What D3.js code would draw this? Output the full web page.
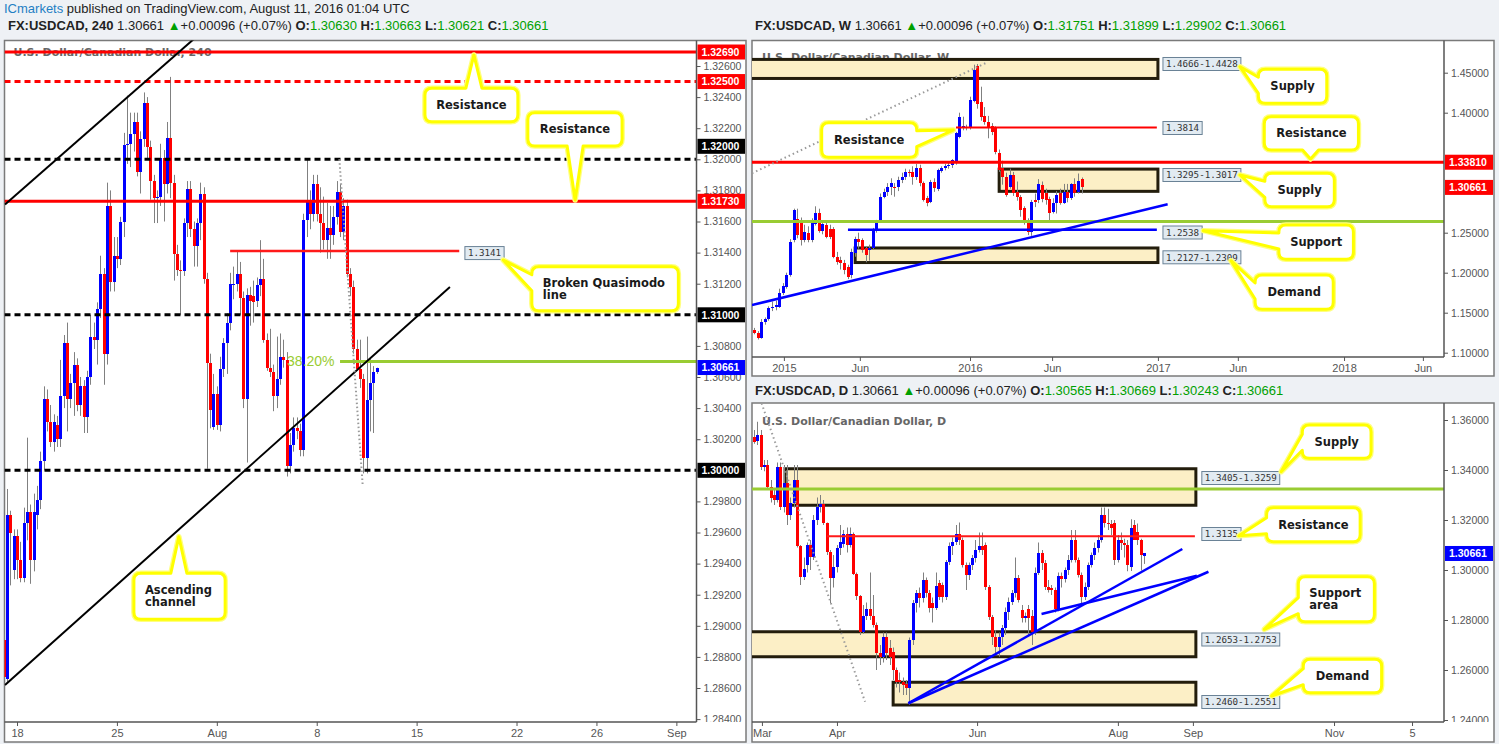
<!DOCTYPE html>
<html>
<head>
<meta charset="utf-8">
<title>USDCAD</title>
<script src="https://cdn.jsdelivr.net/npm/d3@7"></script>
<style>
html,body{margin:0;padding:0;background:#eef1f5;}
svg{display:block;}
text{white-space:pre;}
</style>
</head>
<body>
<svg id="chart" width="1499" height="744"></svg>
<script>
// ================= DATA =================
// 4H candles [open, high, low, close]
const h4Candles = [
[1.2891,1.2895,1.2865,1.2867],[1.2866,1.2988,1.2864,1.2971],[1.2971,1.2974,1.2926,1.2960],[1.2936,1.2962,1.2930,1.2958],
[1.2958,1.2962,1.2930,1.2942],[1.2942,1.2954,1.2928,1.2931],[1.2931,1.2976,1.2928,1.2966],[1.2966,1.3021,1.2955,1.2973],
[1.2973,1.2978,1.2927,1.2942],[1.2942,1.2985,1.2935,1.2973],[1.2971,1.2990,1.2962,1.2981],[1.2981,1.3012,1.2975,1.3006],
[1.3006,1.3054,1.3000,1.3046],[1.3046,1.3052,1.3025,1.3031],[1.3031,1.3042,1.3015,1.3018],[1.3018,1.3036,1.3012,1.3031],
[1.3029,1.3035,1.3015,1.3020],[1.3020,1.3071,1.3015,1.3048],[1.3048,1.3087,1.3040,1.3082],[1.3082,1.3095,1.3025,1.3046],
[1.3046,1.3062,1.3040,1.3056],[1.3056,1.3076,1.3035,1.3068],[1.3068,1.3072,1.3038,1.3042],[1.3042,1.3060,1.3035,1.3054],
[1.3054,1.3058,1.3024,1.3034],[1.3034,1.3064,1.3024,1.3060],[1.3060,1.3100,1.3055,1.3086],[1.3086,1.3095,1.3078,1.3084],
[1.3084,1.3108,1.3068,1.3104],[1.3104,1.3138,1.3098,1.3126],[1.3126,1.3130,1.3055,1.3075],[1.3075,1.3185,1.3068,1.3170],
[1.3170,1.3180,1.3115,1.3121],[1.3121,1.3150,1.3115,1.3138],[1.3138,1.3150,1.3130,1.3136],[1.3136,1.3163,1.3132,1.3160],
[1.3160,1.3217,1.3150,1.3209],[1.3209,1.3241,1.3197,1.3210],[1.3210,1.3230,1.3195,1.3216],[1.3216,1.3230,1.3205,1.3224],
[1.3224,1.3230,1.3189,1.3192],[1.3192,1.3218,1.3178,1.3213],[1.3213,1.3243,1.3208,1.3236],[1.3236,1.3240,1.3200,1.3208],
[1.3208,1.3212,1.3174,1.3186],[1.3186,1.3190,1.3159,1.3175],[1.3175,1.3180,1.3159,1.3176],[1.3176,1.3210,1.3170,1.3201],
[1.3201,1.3206,1.3160,1.3184],[1.3184,1.3224,1.3178,1.3214],[1.3214,1.3253,1.3175,1.3185],[1.3185,1.3190,1.3122,1.3139],
[1.3139,1.3145,1.3125,1.3129],[1.3129,1.3135,1.3100,1.3128],[1.3128,1.3162,1.3125,1.3159],[1.3159,1.3186,1.3150,1.3181],
[1.3181,1.3186,1.3150,1.3155],[1.3155,1.3160,1.3131,1.3144],[1.3144,1.3162,1.3131,1.3159],[1.3159,1.3185,1.3148,1.3178],
[1.3178,1.3182,1.3120,1.3123],[1.3123,1.3127,1.3001,1.3069],[1.3069,1.3075,1.3027,1.3039],[1.3028,1.3062,1.3026,1.3049],
[1.3049,1.3054,1.3026,1.3029],[1.3029,1.3073,1.3025,1.3065],[1.3065,1.3085,1.3060,1.3082],[1.3082,1.3101,1.3062,1.3095],
[1.3095,1.3127,1.3090,1.3120],[1.3119,1.3131,1.3110,1.3120],[1.3120,1.3141,1.3115,1.3126],[1.3126,1.3134,1.3100,1.3111],
[1.3111,1.3115,1.3040,1.3046],[1.3046,1.3117,1.3005,1.3113],[1.3113,1.3118,1.3093,1.3109],[1.3112,1.3122,1.3095,1.3108],
[1.3109,1.3124,1.3105,1.3119],[1.3119,1.3148,1.3112,1.3123],[1.3123,1.3136,1.3082,1.3084],[1.3084,1.3088,1.3064,1.3066],
[1.3066,1.3091,1.3060,1.3063],[1.3063,1.3068,1.3038,1.3048],[1.3048,1.3086,1.3040,1.3059],[1.3059,1.3088,1.3055,1.3073],
[1.3073,1.3084,1.3066,1.3071],[1.3071,1.3076,1.2996,1.3003],[1.3003,1.3024,1.2998,1.3016],[1.3016,1.3034,1.3012,1.3027],
[1.3027,1.3034,1.3020,1.3025],[1.3025,1.3030,1.3009,1.3013],[1.3013,1.3165,1.3009,1.3161],[1.3161,1.3200,1.3150,1.3173],
[1.3173,1.3180,1.3155,1.3165],[1.3165,1.3190,1.3160,1.3184],[1.3184,1.3190,1.3160,1.3165],[1.3165,1.3182,1.3140,1.3159],
[1.3159,1.3176,1.3142,1.3148],[1.3148,1.3172,1.3136,1.3156],[1.3156,1.3170,1.3136,1.3151],[1.3151,1.3170,1.3145,1.3163],
[1.3163,1.3186,1.3158,1.3179],[1.3179,1.3184,1.3150,1.3153],[1.3153,1.3175,1.3148,1.3170],[1.3170,1.3174,1.3124,1.3126],
[1.3126,1.3130,1.3112,1.3118],[1.3118,1.3122,1.3075,1.3078],[1.3078,1.3084,1.3064,1.3065],[1.3065,1.3084,1.3053,1.3059],
[1.3059,1.3062,1.2998,1.3008],[1.3008,1.3086,1.2998,1.3045],[1.3045,1.3072,1.3025,1.3056],[1.3056,1.3067,1.3024,1.3063],
[1.3063,1.3066,1.3062,1.3066]
];
const h4TimeTickIdx = [4, 34, 64, 94, 124, 154, 178, 202];
const h4TimeTickLabels = ['18', '25', 'Aug', '8', '15', '22', '26', 'Sep'];
const h4PriceTicks = [1.326,1.324,1.322,1.320,1.318,1.316,1.314,1.312,1.308,1.306,1.304,1.302,1.298,1.296,1.294,1.292,1.290,1.288,1.286,1.284];
const h4PriceTags = [
  {p:1.3269, t:'1.32690', c:'#ff0000', dy:0},
  {p:1.3250, t:'1.32500', c:'#ff0000', dy:0},
  {p:1.3200, t:'1.32000', c:'#000000', dy:-13},
  {p:1.3173, t:'1.31730', c:'#ff0000', dy:0},
  {p:1.3100, t:'1.31000', c:'#000000', dy:0},
  {p:1.30661, t:'1.30661', c:'#0000ff', dy:0},
  {p:1.3000, t:'1.30000', c:'#000000', dy:0}
];
const h4Levels = [
  {p:1.3269, c:'#ff0000', w:3, dash:null},
  {p:1.3250, c:'#ff0000', w:3, dash:'6,4'},
  {p:1.3200, c:'#000000', w:3, dash:'6,4'},
  {p:1.3173, c:'#ff0000', w:3, dash:null},
  {p:1.3100, c:'#000000', w:3, dash:'6,4'},
  {p:1.3000, c:'#000000', w:3, dash:'6,4'}
];
const h4Segments = [
  {a:[68, 1.3141], b:[136.8, 1.3141], c:'#ff1a1a', w:2.5, dash:null},
  {a:[101, 1.3070], b:[210, 1.3070], c:'#99cc33', w:3, dash:null},
  {a:[0.39, 1.3171], b:[60, 1.32828], c:'#000000', w:2, dash:null},
  {a:[0.39, 1.28619], b:[134, 1.31179], c:'#000000', w:2, dash:null},
  {a:[100.8, 1.3200], b:[107.8, 1.29906], c:'#9a9a9a', w:2, dash:'1.5,2.5'}
];
const h4Texts = [{i:85.1, p:1.3070, t:'38.20%', c:'#99cc33', size:14}];
const h4ValueLabels = [{i:138.5, p:1.31397, t:'1.3141'}];
const h4Callouts = [
  {x0:126.5, x1:154.4, p0:1.32457, p1:1.32242, tx:141.2, tp:1.32671, lines:['Resistance']},
  {x0:157.4, x1:185.7, p0:1.3230, p1:1.32086, tx:171.6, tp:1.31738, lines:['Resistance']},
  {x0:158.6, x1:202.6, p0:1.31309, p1:1.31026, tx:150, tp:1.31352, lines:['Broken Quasimodo','line']},
  {x0:39.1, x1:66.5, p0:1.29338, p1:1.29042, tx:52.6, tp:1.29573, lines:['Ascending','channel']}
];

// Weekly candles [open, high, low, close]
const wCandles = [
[1.1284,1.1310,1.1230,1.1250],[1.1250,1.1270,1.1165,1.1188],[1.1188,1.1420,1.1175,1.1388],[1.1388,1.1440,1.1350,1.1417],
[1.1417,1.1580,1.1400,1.1555],[1.1555,1.1640,1.1520,1.1575],[1.1575,1.1650,1.1530,1.1596],[1.1575,1.1800,1.1560,1.1750],
[1.1742,1.1870,1.1720,1.1834],[1.1825,1.2000,1.1800,1.1971],[1.1971,1.2420,1.1950,1.2388],[1.2409,1.2800,1.2380,1.2784],
[1.2667,1.2800,1.2430,1.2471],[1.2638,1.2690,1.2340,1.2409],[1.2409,1.2600,1.2380,1.2513],[1.2500,1.2580,1.2380,1.2409],
[1.2409,1.2680,1.2380,1.2638],[1.2609,1.2830,1.2590,1.2750],[1.2750,1.2800,1.2500,1.2525],[1.2525,1.2620,1.2480,1.2609],
[1.2596,1.2650,1.2430,1.2450],[1.2542,1.2600,1.2420,1.2450],[1.2542,1.2570,1.2180,1.2200],[1.2200,1.2260,1.2100,1.2138],
[1.2159,1.2200,1.2040,1.2117],[1.2125,1.2160,1.1980,1.2034],[1.2075,1.2100,1.1920,1.1950],[1.1971,1.2300,1.1930,1.2263],
[1.2242,1.2450,1.2200,1.2417],[1.2417,1.2500,1.2300,1.2388],[1.2409,1.2430,1.2250,1.2284],[1.2305,1.2330,1.2130,1.2221],
[1.2284,1.2350,1.2150,1.2305],[1.2305,1.2560,1.2290,1.2542],[1.2534,1.2660,1.2500,1.2638],[1.2659,1.2990,1.2640,1.2951],
[1.2951,1.3050,1.2930,1.3013],[1.3013,1.3120,1.2960,1.3075],[1.3067,1.3180,1.2970,1.3125],[1.3075,1.3120,1.2950,1.3055],
[1.3067,1.3200,1.3020,1.3159],[1.3159,1.3250,1.3120,1.3200],[1.3200,1.3300,1.3160,1.3263],[1.3263,1.3290,1.3200,1.3242],
[1.3255,1.3330,1.3100,1.3200],[1.3200,1.3360,1.3160,1.3313],[1.3313,1.3350,1.3080,1.3125],[1.3125,1.3140,1.2890,1.2909],
[1.2930,1.2960,1.2830,1.2875],[1.2888,1.3160,1.2870,1.3138],[1.3138,1.3180,1.3010,1.3055],[1.3042,1.3300,1.3020,1.3284],
[1.3275,1.3330,1.3250,1.3305],[1.3305,1.3360,1.3280,1.3334],[1.3334,1.3390,1.3300,1.3346],[1.3346,1.3420,1.3310,1.3409],
[1.3367,1.3760,1.3350,1.3742],[1.3700,1.4000,1.3680,1.3942],[1.3817,1.3950,1.3780,1.3834],[1.3805,1.3850,1.3780,1.3817],
[1.3805,1.4200,1.3790,1.4159],[1.4150,1.4600,1.4130,1.4534],[1.4584,1.4609,1.4050,1.4109],[1.4138,1.4325,1.3900,1.3942],
[1.3959,1.4070,1.3850,1.3888],[1.3888,1.3960,1.3680,1.3817],[1.3834,1.3870,1.3720,1.3763],[1.3817,1.3830,1.3480,1.3513],
[1.3492,1.3540,1.3260,1.3284],[1.3305,1.3400,1.3100,1.3200],[1.3200,1.3250,1.2950,1.2971],[1.3075,1.3300,1.3050,1.3221],
[1.3221,1.3260,1.2960,1.2992],[1.3013,1.3140,1.2900,1.2951],[1.2951,1.2970,1.2700,1.2784],[1.2805,1.2830,1.2600,1.2638],
[1.2659,1.2680,1.2470,1.2513],[1.2513,1.2910,1.2461,1.2888],[1.2909,1.2990,1.2820,1.2888],[1.2909,1.3170,1.2870,1.3109],
[1.3096,1.3140,1.2880,1.2917],[1.2992,1.3050,1.2850,1.2909],[1.2917,1.2950,1.2650,1.2742],[1.2763,1.2930,1.2740,1.2867],
[1.2867,1.3020,1.2740,1.2971],[1.3001,1.3050,1.2850,1.2875],[1.2875,1.3110,1.2860,1.3013],[1.3013,1.3110,1.2880,1.2930],
[1.2930,1.3120,1.2910,1.3109],[1.3109,1.3180,1.2950,1.3001],[1.3013,1.3240,1.2990,1.3150],[1.31751,1.31899,1.29902,1.30661]
];
const wTimeTickIdx = [8.3, 29.4, 60, 82.8, 112.2, 134.4, 163.9, 185.8];
const wTimeTickLabels = ['2015', 'Jun', '2016', 'Jun', '2017', 'Jun', '2018', 'Jun'];
const wPriceTicks = [1.45, 1.40, 1.25, 1.20, 1.15, 1.10];
const wPriceTags = [
  {p:1.3381, t:'1.33810', c:'#ff0000', dy:0},
  {p:1.30661, t:'1.30661', c:'#ff0000', dy:0}
];
const wZones = [
  {x0:-3, x1:112.2, p0:1.4666, p1:1.4428},
  {x0:68.1, x1:112.2, p0:1.3295, p1:1.3017},
  {x0:28.1, x1:112.2, p0:1.2309, p1:1.2127}
];
const wLevels = [
  {p:1.3381, c:'#ff0000', w:3, dash:null},
  {p:1.2640, c:'#99cc33', w:3, dash:null}
];
const wSegments = [
  {a:[56.1, 1.3814], b:[111.9, 1.3814], c:'#ff0000', w:2, dash:null},
  {a:[26.1, 1.2538], b:[111.9, 1.2538], c:'#0000ff', w:2.5, dash:null},
  {a:[-0.56, 1.1596], b:[114.9, 1.2855], c:'#0000ff', w:2.5, dash:null},
  {a:[-0.56, 1.3243], b:[64.6, 1.4625], c:'#9a9a9a', w:2, dash:'1.5,3'}
];
const wValueLabels = [
  {i:113.6, p:1.46088, t:'1.4666-1.4428'},
  {i:113.6, p:1.38088, t:'1.3814'},
  {i:113.6, p:1.32213, t:'1.3295-1.3017'},
  {i:113.6, p:1.25025, t:'1.2538'},
  {i:113.6, p:1.21925, t:'1.2127-1.2309'}
];
const wCallouts = [
  {x0:140.1, x1:159.1, p0:1.45425, p1:1.41175, tx:135, tp:1.4575, lines:['Supply']},
  {x0:141.75, x1:167.9, p0:1.395, p1:1.35338, tx:154.6, tp:1.34213, lines:['Resistance']},
  {x0:141.9, x1:161.2, p0:1.32425, p1:1.2825, tx:135, tp:1.32213, lines:['Supply']},
  {x0:145.8, x1:166.5, p0:1.25963, p1:1.21675, tx:124.8, tp:1.2525, lines:['Support']},
  {x0:139.2, x1:160.9, p0:1.19713, p1:1.15425, tx:132.5, tp:1.2150, lines:['Demand']},
  {x0:18.8, x1:45.2, p0:1.3875, p1:1.34425, tx:55.4, tp:1.37838, lines:['Resistance']}
];

// Daily candles [open, high, low, close]
const dCandles = [
[1.3533,1.3560,1.3505,1.3513],[1.3517,1.3593,1.3500,1.3540],[1.3540,1.3560,1.3400,1.3411],[1.3411,1.3440,1.3395,1.3420],
[1.3420,1.3440,1.3320,1.3333],[1.3333,1.3360,1.3270,1.3290],[1.3300,1.3320,1.3260,1.3280],[1.3280,1.3430,1.3270,1.3411],
[1.3411,1.3430,1.3240,1.3253],[1.3253,1.3420,1.3230,1.3347],[1.3347,1.3420,1.3180,1.3220],[1.3220,1.3290,1.3200,1.3267],
[1.3267,1.3420,1.3250,1.3360],[1.3360,1.3420,1.3090,1.3096],[1.3096,1.3100,1.2940,1.2973],[1.2973,1.3050,1.2960,1.3003],
[1.3020,1.3110,1.2990,1.3100],[1.3100,1.3120,1.3000,1.3051],[1.3051,1.3220,1.3040,1.3200],[1.3200,1.3290,1.3180,1.3253],
[1.3253,1.3300,1.3230,1.3263],[1.3263,1.3280,1.3180,1.3187],[1.3187,1.3190,1.3060,1.3073],[1.3073,1.3080,1.2867,1.2967],
[1.2967,1.3060,1.2930,1.3013],[1.3013,1.3100,1.2990,1.3087],[1.3087,1.3180,1.3060,1.3113],[1.3105,1.3160,1.3090,1.3143],
[1.3143,1.3170,1.3070,1.3100],[1.3100,1.3170,1.3090,1.3143],[1.3143,1.3150,1.2980,1.2984],[1.2984,1.2990,1.2880,1.2896],
[1.2896,1.2900,1.2740,1.2753],[1.2753,1.2860,1.2745,1.2816],[1.2816,1.2870,1.2800,1.2843],[1.2843,1.2990,1.2800,1.2816],
[1.2816,1.2900,1.2770,1.2780],[1.2780,1.2790,1.2600,1.2667],[1.2667,1.2700,1.2620,1.2651],[1.2651,1.2750,1.2630,1.2733],
[1.2733,1.2750,1.2640,1.2667],[1.2690,1.2720,1.2620,1.2651],[1.2673,1.2690,1.2560,1.2600],[1.2600,1.2610,1.2530,1.2553],
[1.2560,1.2590,1.2510,1.2553],[1.2553,1.2570,1.2500,1.2540],[1.2545,1.2560,1.2500,1.2527],[1.2527,1.2730,1.2461,1.2720],
[1.2720,1.2880,1.2700,1.2867],[1.2867,1.2920,1.2830,1.2907],[1.2907,1.2930,1.2850,1.2890],[1.2890,1.2990,1.2870,1.2960],
[1.2960,1.2970,1.2890,1.2907],[1.2907,1.2920,1.2830,1.2847],[1.2870,1.2890,1.2790,1.2847],[1.2847,1.2990,1.2840,1.2936],
[1.2947,1.2960,1.2880,1.2893],[1.2940,1.2950,1.2870,1.2893],[1.2893,1.3040,1.2880,1.3033],[1.3033,1.3110,1.3020,1.3096],
[1.3096,1.3130,1.3060,1.3113],[1.3113,1.3180,1.3100,1.3143],[1.3143,1.3190,1.3100,1.3120],[1.3120,1.3130,1.3010,1.3020],
[1.3020,1.3030,1.2920,1.2980],[1.2980,1.3030,1.2960,1.3020],[1.3020,1.3060,1.3000,1.3047],[1.3047,1.3120,1.3030,1.3080],
[1.3080,1.3150,1.3070,1.3096],[1.3096,1.3150,1.3060,1.3080],[1.3100,1.3110,1.2920,1.2933],[1.2933,1.2940,1.2800,1.2813],
[1.2813,1.2820,1.2700,1.2733],[1.2733,1.2760,1.2660,1.2693],[1.2693,1.2750,1.2653,1.2733],[1.2733,1.2780,1.2700,1.2767],
[1.2767,1.2850,1.2740,1.2833],[1.2833,1.2890,1.2800,1.2873],[1.2873,1.2920,1.2860,1.2909],[1.2909,1.3050,1.2890,1.2967],
[1.2967,1.2980,1.2870,1.2880],[1.2840,1.2860,1.2790,1.2810],[1.2810,1.2830,1.2790,1.2816],[1.2843,1.2860,1.2740,1.2807],
[1.2816,1.2840,1.2700,1.2753],[1.2753,1.3010,1.2740,1.2987],[1.2987,1.3110,1.2980,1.3069],[1.3069,1.3080,1.3000,1.3027],
[1.3027,1.3040,1.2920,1.2933],[1.2933,1.2960,1.2910,1.2920],[1.2927,1.2940,1.2900,1.2920],[1.2920,1.2930,1.2830,1.2843],
[1.2843,1.2990,1.2835,1.2977],[1.2977,1.2990,1.2930,1.2963],[1.2963,1.3010,1.2950,1.3000],[1.3000,1.3060,1.2980,1.3040],
[1.3040,1.3160,1.3030,1.3120],[1.3120,1.3160,1.3030,1.3040],[1.3040,1.3050,1.2970,1.2980],[1.2980,1.2990,1.2867,1.2893],
[1.2893,1.2950,1.2880,1.2933],[1.2933,1.3030,1.2920,1.3020],[1.3020,1.3070,1.3010,1.3060],[1.3060,1.3110,1.3040,1.3087],
[1.3087,1.3140,1.3070,1.3120],[1.3120,1.3250,1.3110,1.3220],[1.3220,1.3250,1.3170,1.3187],[1.3187,1.3245,1.3160,1.3185],
[1.3185,1.3200,1.3140,1.3170],[1.3187,1.3200,1.3020,1.3040],[1.3040,1.3140,1.3030,1.3120],[1.3120,1.3150,1.3080,1.3107],
[1.3107,1.3125,1.3050,1.3100],[1.3100,1.3120,1.2995,1.3020],[1.3013,1.3203,1.2996,1.3167],[1.3180,1.3200,1.3136,1.3120],
[1.3153,1.3186,1.3100,1.3120],[1.3120,1.3125,1.2998,1.3060],[1.30565,1.30669,1.30243,1.30661]
];
const dTimeTickIdx = [2.4, 25.1, 67.5, 110.1, 132.8, 175.5, 199.1];
const dTimeTickLabels = ['Mar', 'Apr', 'Jun', 'Aug', 'Sep', 'Nov', '5'];
const dPriceTicks = [1.36, 1.34, 1.32, 1.30, 1.28, 1.26, 1.24];
const dPriceTags = [{p:1.30661, t:'1.30661', c:'#0000ff', dy:0}];
const dZones = [
  {x0:9.4, x1:133.7, p0:1.3405, p1:1.3259},
  {x0:-3, x1:133.7, p0:1.2753, p1:1.2653},
  {x0:42.1, x1:133.7, p0:1.2551, p1:1.2460}
];
const dLevels = [{p:1.3324, c:'#99cc33', w:3, dash:null}];
const dSegments = [
  {a:[22.1, 1.3135], b:[133.4, 1.3135], c:'#ff1a1a', w:2, dash:null},
  {a:[46.7, 1.2467], b:[129.6, 1.3084], c:'#0000ff', w:2.5, dash:null},
  {a:[46.7, 1.2467], b:[137.5, 1.2993], c:'#0000ff', w:2.5, dash:null},
  {a:[87.0, 1.2824], b:[134.0, 1.2977], c:'#0000ff', w:2.5, dash:null},
  {a:[2.3, 1.3667], b:[33.6, 1.2473], c:'#9a9a9a', w:2, dash:'1.5,3'}
];
const dValueLabels = [
  {i:135.5, p:1.3368, t:'1.3405-1.3259'},
  {i:135.5, p:1.3144, t:'1.3135'},
  {i:135.5, p:1.2722, t:'1.2653-1.2753'},
  {i:135.5, p:1.2472, t:'1.2460-1.2551'}
];
const dCallouts = [
  {x0:165.9, x1:186.7, p0:1.358, p1:1.34468, tx:159.5, tp:1.33932, lines:['Supply']},
  {x0:155.1, x1:183.4, p0:1.32492, p1:1.31132, tx:146.7, tp:1.31372, lines:['Resistance']},
  {x0:164.7, x1:187.7, p0:1.29732, p1:1.27932, tx:154.4, tp:1.27628, lines:['Support','area']},
  {x0:166.2, x1:189.9, p0:1.26428, p1:1.25092, tx:156.6, tp:1.2496, lines:['Demand']}
];

// ================= DRAWING =================
const FONT_UI = "'Liberation Sans', Arial, sans-serif";
const FONT_B = "'DejaVu Sans', Verdana, sans-serif";
const FONT_M = "'DejaVu Sans Mono', 'Liberation Mono', monospace";

const svg = d3.select('#chart');
svg.append('rect').attr('width', 1499).attr('height', 744).attr('fill', '#eef1f5');
const defs = svg.append('defs');

function header(x, y, parts) {
  const t = svg.append('text').attr('x', x).attr('y', y).attr('font-family', FONT_UI).attr('font-size', 13).attr('fill', '#222');
  parts.forEach(([s, st]) => {
    const ts = t.append('tspan').text(s);
    if (st === 'b') ts.attr('font-weight', 'bold');
    if (st === 'g') ts.attr('fill', '#00a000');
    if (st === 'l') ts.attr('fill', '#1f7fc4');
  });
}
function quote(tf, last, o, h, l, c) {
  return [['FX:USDCAD, ' + tf, 'b'], [' ' + last + ' ', 'n'], ['\u25B2', 'g'], ['+0.00096 (+0.07%) ', 'n'],
    ['O:', 'b'], [o, 'g'], [' H:', 'b'], [h, 'g'], [' L:', 'b'], [l, 'g'], [' C:', 'b'], [c, 'g']];
}

function callout(layer, x, y, c) {
  const X0 = x(c.x0), X1 = x(c.x1), Y0 = y(c.p0), Y1 = y(c.p1), TX = x(c.tx), TY = y(c.tp);
  const r = 7, hw = 8;
  const dl = X0 - TX, dr = TX - X1, dt = Y0 - TY, db = TY - Y1;
  const m = Math.max(dl, dr, dt, db);
  const side = m === dl ? 'l' : m === dr ? 'r' : m === dt ? 't' : 'b';
  const cl = (v, a, b) => Math.max(a, Math.min(b, v));
  const bx = cl(TX, X0 + r + hw + 2, X1 - r - hw - 2), by = cl(TY, Y0 + r + hw + 1, Y1 - r - hw - 1);
  let p = `M${X0 + r},${Y0}`;
  if (side === 't') p += `L${bx - hw},${Y0}L${TX},${TY}L${bx + hw},${Y0}`;
  p += `L${X1 - r},${Y0}Q${X1},${Y0} ${X1},${Y0 + r}`;
  if (side === 'r') p += `L${X1},${by - hw}L${TX},${TY}L${X1},${by + hw}`;
  p += `L${X1},${Y1 - r}Q${X1},${Y1} ${X1 - r},${Y1}`;
  if (side === 'b') p += `L${bx + hw},${Y1}L${TX},${TY}L${bx - hw},${Y1}`;
  p += `L${X0 + r},${Y1}Q${X0},${Y1} ${X0},${Y1 - r}`;
  if (side === 'l') p += `L${X0},${by + hw}L${TX},${TY}L${X0},${by - hw}`;
  p += `L${X0},${Y0 + r}Q${X0},${Y0} ${X0 + r},${Y0}Z`;
  layer.append('path').attr('d', p).attr('fill', 'none').attr('stroke', '#ffff80').attr('stroke-width', 5.5).attr('stroke-linejoin', 'round');
  layer.append('path').attr('d', p).attr('fill', '#fff').attr('stroke', '#ffff00').attr('stroke-width', 3).attr('stroke-linejoin', 'round');
  const n = c.lines.length, lh = 12, cy = (Y0 + Y1) / 2;
  const t = layer.append('text').attr('font-family', FONT_B).attr('font-weight', 'bold').attr('font-size', 11.5).attr('fill', '#1a1a1a');
  if (n === 1) t.attr('text-anchor', 'middle');
  c.lines.forEach((s, k) => {
    t.append('tspan').attr('x', n > 1 ? X0 + 11 : (X0 + X1) / 2).attr('y', cy + (k - (n - 1) / 2) * lh).attr('dy', '0.36em').text(s);
  });
}

function valueLabel(layer, x, y, v) {
  const g = layer.append('g');
  const X = x(v.i), Y = y(v.p);
  const t = g.append('text').attr('x', X + 3).attr('y', Y).attr('dy', '0.35em').attr('font-family', FONT_M).attr('font-size', 9.2).attr('fill', '#333').text(v.t);
  const w = t.node().getComputedTextLength();
  g.insert('rect', 'text').attr('x', X).attr('y', Y - 6.5).attr('width', w + 6).attr('height', 13).attr('fill', '#e2ebf2').attr('stroke', '#6a8296').attr('stroke-width', 1);
}

function drawPanel(cfg) {
  const [bx0, by0, bx1, by1] = cfg.box, [px0, py0, px1, py1] = cfg.plot;
  const g = svg.append('g');
  g.append('rect').attr('x', bx0).attr('y', by0).attr('width', bx1 - bx0).attr('height', by1 - by0).attr('fill', '#fff').attr('stroke', '#7a7a7a').attr('stroke-width', 1.5);
  const x = d3.scaleLinear().domain([0, 1]).range([cfg.x0, cfg.x0 + cfg.step]);
  const y = d3.scaleLinear().domain(cfg.yDomain).range([py1, py0]);
  const cid = 'clip-' + cfg.id;
  defs.append('clipPath').attr('id', cid).append('rect').attr('x', px0).attr('y', py0).attr('width', px1 - px0).attr('height', py1 - py0);
  const plot = g.append('g').attr('clip-path', `url(#${cid})`);

  // title
  plot.append('text').attr('x', px0 + cfg.titleDx).attr('y', py0 + cfg.titleDy).attr('font-family', FONT_B).attr('font-weight', 'bold')
    .attr('font-size', 11).attr('fill', '#666').text(cfg.title);

  // zones
  plot.selectAll('rect.zone').data(cfg.zones || []).join('rect').attr('class', 'zone')
    .attr('x', d => x(d.x0)).attr('y', d => y(d.p0)).attr('width', d => x(d.x1) - x(d.x0)).attr('height', d => y(d.p1) - y(d.p0))
    .attr('fill', '#fcefc6').attr('stroke', '#231d0c').attr('stroke-width', 3);

  // candles
  const bw = cfg.bodyW;
  const cg = plot.append('g');
  cg.selectAll('line').data(cfg.candles).join('line')
    .attr('x1', (d, i) => Math.round(x(i)) + 0.5).attr('x2', (d, i) => Math.round(x(i)) + 0.5)
    .attr('y1', d => y(d[1])).attr('y2', d => y(d[2])).attr('stroke', '#808080').attr('stroke-width', 1);
  cg.selectAll('rect').data(cfg.candles).join('rect')
    .attr('x', (d, i) => Math.round(x(i)) + 0.5 - bw / 2).attr('width', bw)
    .attr('y', d => y(Math.max(d[0], d[3]))).attr('height', d => Math.max(1, Math.abs(y(d[0]) - y(d[3]))))
    .attr('fill', d => d[3] >= d[0] ? '#0000ff' : '#ff0000').attr('shape-rendering', 'crispEdges');

  // horizontal levels
  plot.selectAll('line.level').data(cfg.levels || []).join('line').attr('class', 'level')
    .attr('x1', px0).attr('x2', px1).attr('y1', d => y(d.p)).attr('y2', d => y(d.p))
    .attr('stroke', d => d.c).attr('stroke-width', d => d.w).attr('stroke-dasharray', d => d.dash);
  // segments
  plot.selectAll('line.seg').data(cfg.segments || []).join('line').attr('class', 'seg')
    .attr('x1', d => x(d.a[0])).attr('y1', d => y(d.a[1])).attr('x2', d => x(d.b[0])).attr('y2', d => y(d.b[1]))
    .attr('stroke', d => d.c).attr('stroke-width', d => d.w).attr('stroke-dasharray', d => d.dash).attr('stroke-linecap', 'butt');
  // texts
  (cfg.texts || []).forEach(d => {
    plot.append('text').attr('x', x(d.i)).attr('y', y(d.p)).attr('dy', '0.36em').attr('font-family', FONT_UI)
      .attr('font-size', d.size).attr('fill', d.c).text(d.t);
  });
  (cfg.valueLabels || []).forEach(v => valueLabel(plot, x, y, v));
  (cfg.callouts || []).forEach(c => callout(plot, x, y, c));

  // axis lines
  g.append('line').attr('x1', px1).attr('x2', px1).attr('y1', by0).attr('y2', py1).attr('stroke', '#555').attr('stroke-width', 1.5);
  g.append('line').attr('x1', bx0).attr('x2', px1).attr('y1', py1).attr('y2', py1).attr('stroke', '#555').attr('stroke-width', 1.5);

  // price axis
  const aid = 'aclip-' + cfg.id;
  defs.append('clipPath').attr('id', aid).append('rect').attr('x', px1).attr('y', by0).attr('width', bx1 - px1).attr('height', py1 - by0);
  const ag = g.append('g').attr('clip-path', `url(#${aid})`);
  const pa = ag.append('g').attr('transform', `translate(${px1},0)`)
    .call(d3.axisRight(y).tickValues(cfg.priceTicks).tickSize(4).tickPadding(3).tickFormat(d3.format('.5f')));
  pa.select('.domain').remove();
  pa.attr('font-family', FONT_UI).attr('font-size', 10.5);
  pa.selectAll('text').attr('fill', '#555');
  pa.selectAll('line').attr('stroke', '#555');
  cfg.priceTags.forEach(tg => {
    const Y = y(tg.p) + tg.dy;
    ag.append('rect').attr('x', px1 + 1).attr('y', Y - 7.5).attr('width', bx1 - px1 - 2).attr('height', 15).attr('fill', tg.c);
    ag.append('text').attr('x', px1 + 5).attr('y', Y).attr('dy', '0.36em').attr('font-family', FONT_UI).attr('font-weight', 'bold')
      .attr('font-size', 10.5).attr('fill', '#fff').text(tg.t);
  });

  // time axis
  const ta = g.append('g').attr('transform', `translate(0,${py1})`)
    .call(d3.axisBottom(x).tickValues(cfg.timeIdx).tickSize(4).tickPadding(3).tickFormat((d, i) => cfg.timeLabels[i]));
  ta.select('.domain').remove();
  ta.attr('font-family', FONT_UI).attr('font-size', 11);
  ta.selectAll('text').attr('fill', '#555');
  ta.selectAll('line').attr('stroke', '#555');
}

// headers
header(4, 13, [['ICmarkets', 'l'], [' published on TradingView.com, August 11, 2016 01:04 UTC', 'n']]);
header(8, 30, quote('240', '1.30661', '1.30630', '1.30663', '1.30621', '1.30661'));
header(755, 30, quote('W', '1.30661', '1.31751', '1.31899', '1.29902', '1.30661'));
header(755, 395, quote('D', '1.30661', '1.30565', '1.30669', '1.30243', '1.30661'));

drawPanel({
  id: 'h4', box: [4.5, 40.5, 746, 742], plot: [4.5, 40.5, 696.5, 722], x0: 3.7, step: 3.33, yDomain: [1.283814, 1.32764],
  title: 'U.S. Dollar/Canadian Dollar, 240', titleDx: 9, titleDy: 15, bodyW: 2.4,
  candles: h4Candles, levels: h4Levels, segments: h4Segments, texts: h4Texts, valueLabels: h4ValueLabels, callouts: h4Callouts,
  priceTicks: h4PriceTicks, priceTags: h4PriceTags, timeIdx: h4TimeTickIdx, timeLabels: h4TimeTickLabels
});
drawPanel({
  id: 'w', box: [752, 40.5, 1494, 376], plot: [752, 40.5, 1444, 357], x0: 754, step: 3.6, yDomain: [1.094625, 1.49025],
  title: 'U.S. Dollar/Canadian Dollar, W', titleDx: 10, titleDy: 20, bodyW: 2.4,
  candles: wCandles, zones: wZones, levels: wLevels, segments: wSegments, valueLabels: wValueLabels, callouts: wCallouts,
  priceTicks: wPriceTicks, priceTags: wPriceTags, timeIdx: wTimeTickIdx, timeLabels: wTimeTickLabels
});
drawPanel({
  id: 'd', box: [752, 403, 1494, 742], plot: [752, 403, 1444, 722], x0: 754, step: 3.305, yDomain: [1.2392, 1.3668],
  title: 'U.S. Dollar/Canadian Dollar, D', titleDx: 10, titleDy: 22, bodyW: 2.4,
  candles: dCandles, zones: dZones, levels: dLevels, segments: dSegments, valueLabels: dValueLabels, callouts: dCallouts,
  priceTicks: dPriceTicks, priceTags: dPriceTags, timeIdx: dTimeTickIdx, timeLabels: dTimeTickLabels
});
</script>
</body>
</html>
